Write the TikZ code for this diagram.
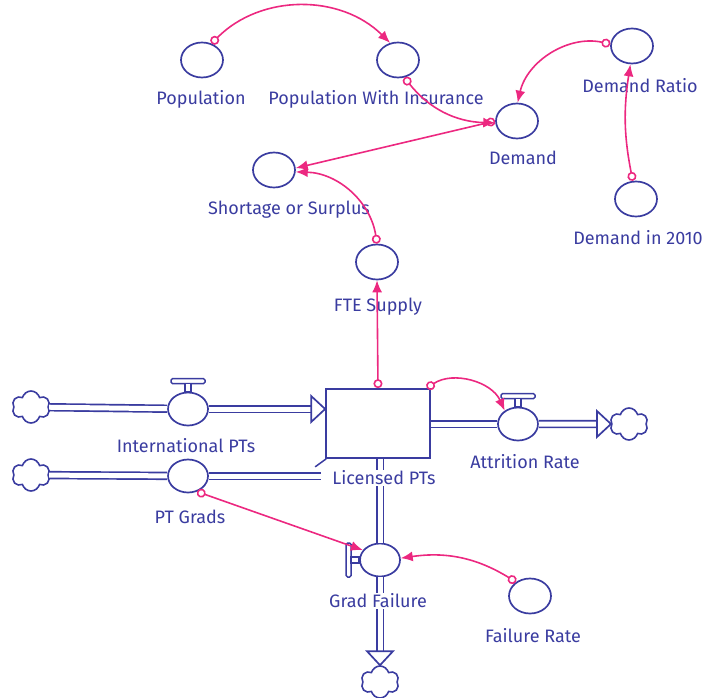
\documentclass[tikz,border=0pt]{standalone}
\usepackage{fontspec}
\setmainfont{Fira Sans}
\usetikzlibrary{arrows.meta, shapes.geometric, shapes.symbols}
\definecolor{sdblue}{RGB}{58,60,160}
\definecolor{sdpink}{RGB}{236,40,128}
\tikzset{
  conv/.style={ellipse, draw=sdblue, fill=white, line width=1.7pt, minimum width=42pt, minimum height=35pt, inner sep=0pt},
  valve/.style={conv, minimum width=40pt, minimum height=33pt},
  stockbox/.style={rectangle, draw=sdblue, line width=1.7pt, minimum width=104pt, minimum height=69pt, inner sep=0pt},
  sky/.style={cloud, cloud puffs=6, aspect=1.1, draw=sdblue, line width=1.6pt, minimum width=38pt, minimum height=32pt, inner sep=0pt},
  pipe/.style={draw=sdblue, line width=1.7pt, double=white, double distance=5pt},
  lbl/.style={text=sdblue, fill=white, inner sep=1pt, font=\fontsize{18}{20}\selectfont},
  link/.style={draw=sdpink, line width=1.6pt, {Circle[open, length=9pt, width=9pt]}-{Latex[length=12pt, width=10pt]}},
  pipehead/.pic={\draw[sdblue, line width=1.7pt, fill=white, line join=miter] (-14,-13) -- (0,0) -- (-14,13) -- cycle;},
  valvetop/.pic={\draw[sdblue, line width=1.5pt, fill=white, rounded corners=1.5pt] (-17,-5) rectangle (17,0);
    \draw[sdblue, line width=1.5pt, fill=white] (-3,0) rectangle (3,8);}
}

\begin{document}
\begin{tikzpicture}[x=1pt, y=-1pt]
	\useasboundingbox (0,0) rectangle (709,698);
	% converters
	\node[conv] (pop) at (202,60) {};
	\node[conv] (popins) at (398,60) {};
	\node[conv] (demand) at (517,121) {};
	\node[conv] (dratio) at (632,46) {};
	\node[conv] (d2010) at (636,199) {};
	\node[conv] (short) at (274,170) {};
	\node[conv] (fte) at (377,262) {};
	\node[conv] (frate) at (530,596) {};
	% stock, flows and clouds
	\node[stockbox] (stock) at (378,423.5) {};
	\node[valve] (intl) at (188,409) {};
	\node[valve] (grads) at (188,476) {};
	\node[valve] (attr) at (518,424) {};
	\node[valve] (gfail) at (380,560) {};
	\node[sky] (src1) at (31,407) {};
	\node[sky] (src2) at (31,475) {};
	\node[sky] (sink1) at (629,424) {};
	\node[sky] (sink2) at (380,682) {};
	\coordinate (inA) at (stock.west |- intl);
	\coordinate (inB) at (stock.west |- grads);
	\coordinate (outA) at (stock.east |- attr);
	\coordinate (outB) at (stock.south -| gfail);
	\draw[pipe] (src1) -- (intl);
	\draw[pipe] (intl) -- ([xshift=-14pt]inA);
	\pic at (inA) {pipehead};
	\draw[pipe] (src2) -- (grads);
	\draw[pipe] (grads) -- ([xshift=-4pt]inB);
	\draw[sdblue, line width=1.5pt] ([xshift=-10pt, yshift=-8pt]stock.south west) -- ([xshift=1pt]stock.south west);
	\draw[pipe] (outA) -- (attr);
	\draw[pipe] (attr) -- ([xshift=-14pt]sink1.west);
	\pic at (sink1.west) {pipehead};
	\draw[pipe] (outB) -- (gfail);
	\draw[pipe] (gfail) -- ([yshift=14pt]sink2.north);
	\pic[rotate=-90] at (sink2.north) {pipehead};
	\pic at ([yshift=8pt]intl.north) {valvetop};
	\pic at ([yshift=8pt]attr.north) {valvetop};
	\pic[rotate=90] at ([xshift=-8pt]gfail.west) {valvetop};
	% labels
	\node[lbl] (poplbl) at (201,99) {Population};
	\node[lbl] (popinslbl) at (376,99) {Population With Insurance};
	\node[lbl] (demandlbl) at (523,158) {Demand};
	\node[lbl] (dratiolbl) at (640,86) {Demand Ratio};
	\node[lbl] (d2010lbl) at (638,238) {Demand in 2010};
	\node[lbl] (shortlbl) at (289,210) {Shortage or Surplus};
	\node[lbl] (ftelbl) at (378,307) {FTE Supply};
	\node[lbl] (intllbl) at (186,446) {International PTs};
	\node[lbl] (stocklbl) at (384,478) {Licensed PTs};
	\node[lbl] (attrlbl) at (525,462) {Attrition Rate};
	\node[lbl] (gradslbl) at (190,517) {PT Grads};
	\node[lbl] (gfaillbl) at (378,601) {Grad Failure};
	\node[lbl] (fratelbl) at (533,636) {Failure Rate};
	% connectors
	\draw[link] (pop.60) to[bend left=45] (popins.115);
	\draw[link] (popins.290) to[bend right=25] (demand.185);
	\draw[link] (dratio.175) to[bend right=45] (demand.88);
	\draw[link] (d2010.100) to[bend left=10] (dratio.265);
	\draw[link] (demand.180) -- (short.5);
	\draw[link] (fte.90) to[bend right=40] (short.355);
	\draw[link] (stock.north) -- (fte.south);
	\draw[link] ([xshift=-4pt]stock.north east) to[bend left=50] (attr.135);
	\draw[link] (grads.300) -- (gfail.150);
	\draw[link] (frate.135) to[bend right=20] (gfail.5);
\end{tikzpicture}
\end{document}
